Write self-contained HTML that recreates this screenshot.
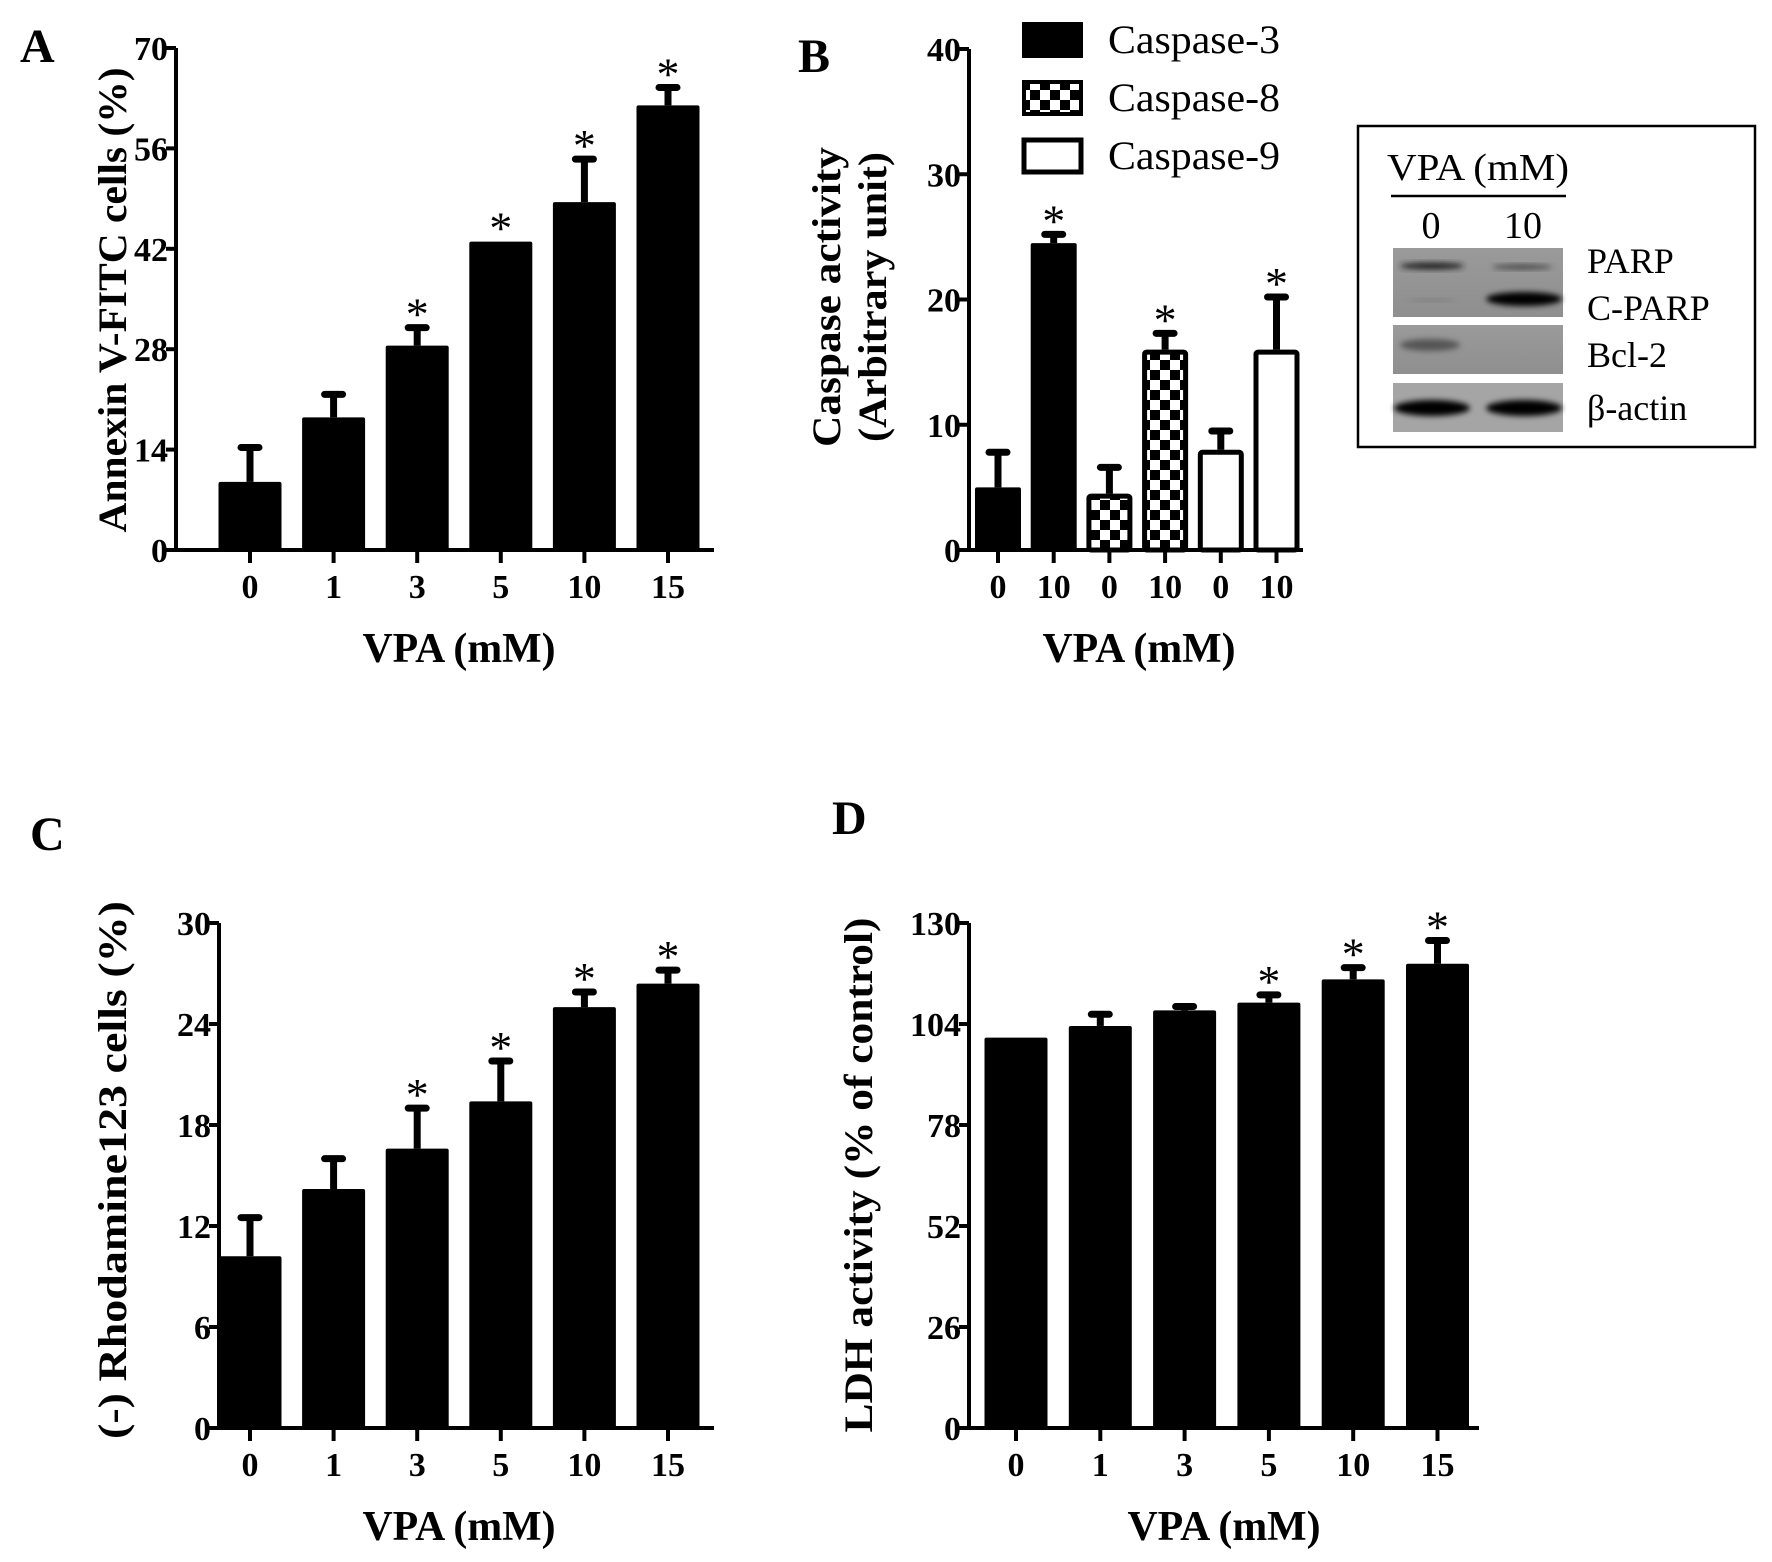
<!DOCTYPE html>
<html><head><meta charset="utf-8"><style>
html,body{margin:0;padding:0;background:#fff;}
svg{display:block;}
text{font-family:"Liberation Serif","DejaVu Serif",serif;fill:#000;}
</style></head><body>
<svg id="fig" width="1772" height="1562" viewBox="0 0 1772 1562" xmlns="http://www.w3.org/2000/svg">
<defs>
<pattern id="checker" width="20" height="20" patternUnits="userSpaceOnUse">
<rect width="20" height="20" fill="#fff"/><rect width="10" height="10" fill="#000"/><rect x="10" y="10" width="10" height="10" fill="#000"/>
</pattern>
<linearGradient id="blotbg" x1="0" y1="0" x2="0" y2="1"><stop offset="0" stop-color="#9a9a9a"/><stop offset="1" stop-color="#8f8f8f"/></linearGradient>
<filter id="blur" x="-20%" y="-50%" width="140%" height="200%"><feGaussianBlur stdDeviation="3"/></filter>
</defs>
<text x="20" y="62" font-size="48" font-weight="bold">A</text>
<text x="798" y="72" font-size="48" font-weight="bold">B</text>
<text x="30" y="850" font-size="48" font-weight="bold">C</text>
<text x="832" y="834" font-size="48" font-weight="bold">D</text>

<g>
<rect x="1358" y="126" width="397" height="321" fill="#fff" stroke="#000" stroke-width="2.5"/>
<text x="1478" y="180" font-size="38" text-anchor="middle" textLength="182" lengthAdjust="spacingAndGlyphs">VPA (mM)</text>
<line x1="1391" y1="196" x2="1566" y2="196" stroke="#000" stroke-width="2.5"/>
<text x="1431" y="238" font-size="38" text-anchor="middle">0</text>
<text x="1523" y="238" font-size="38" text-anchor="middle">10</text>
<rect x="1393" y="248" width="170" height="69" fill="url(#blotbg)"/>
<ellipse cx="1432" cy="266" rx="32" ry="3.5" fill="#222" filter="url(#blur)"/>
<ellipse cx="1522" cy="267" rx="30" ry="2.5" fill="#444" filter="url(#blur)"/>
<ellipse cx="1432" cy="300" rx="25" ry="1.5" fill="#7a7a7a" filter="url(#blur)"/>
<ellipse cx="1524" cy="299" rx="38" ry="7" fill="#000" filter="url(#blur)"/>
<rect x="1393" y="325" width="170" height="49" fill="url(#blotbg)"/>
<ellipse cx="1430" cy="345" rx="30" ry="6" fill="#555" filter="url(#blur)"/>
<rect x="1393" y="383" width="170" height="49" fill="#a5a5a5"/>
<ellipse cx="1432" cy="408" rx="38" ry="8" fill="#050505" filter="url(#blur)"/>
<ellipse cx="1524" cy="408" rx="38" ry="8" fill="#050505" filter="url(#blur)"/>
<text x="1587" y="273" font-size="36">PARP</text>
<text x="1587" y="320" font-size="36">C-PARP</text>
<text x="1587" y="367" font-size="36">Bcl-2</text>
<text x="1587" y="420" font-size="36">β-actin</text>
</g>

<g>
<rect x="1024" y="24" width="57" height="32" fill="#000" stroke="#000" stroke-width="4"/>
<text x="1108" y="53" font-size="40" textLength="172" lengthAdjust="spacingAndGlyphs">Caspase-3</text>
<rect x="1024" y="82" width="57" height="32" fill="url(#checker)" stroke="#000" stroke-width="4"/>
<text x="1108" y="111" font-size="40" textLength="172" lengthAdjust="spacingAndGlyphs">Caspase-8</text>
<rect x="1024" y="140" width="57" height="32" fill="#fff" stroke="#000" stroke-width="5"/>
<text x="1108" y="169" font-size="40" textLength="172" lengthAdjust="spacingAndGlyphs">Caspase-9</text>
</g>
<g id="charts"></g>
</svg>
<script>
// Panel A
const catsA = ["0","1","3","5","10","15"];
const valsA = [9.5, 18.5, 28.5, 43, 48.5, 62];
const errA = [14.3, 21.7, 31, 43, 54.5, 64.5];
const starA = [false,false,true,true,true,true];
const ticksA = [0,14,28,42,56,70];
// Panel B
const catsB = ["0","10","0","10","0","10"];
const valsB = [5, 24.5, 4.5, 16, 8, 16];
const errB = [7.8, 25.2, 6.6, 17.3, 9.5, 20.2];
const starB = [false,true,false,true,false,true];
const fillB = ["#000","#000","url(#checker)","url(#checker)","#fff","#fff"];
const ticksB = [0,10,20,30,40];
// Panel C
const catsC = ["0","1","3","5","10","15"];
const valsC = [10.2, 14.2, 16.6, 19.4, 25, 26.4];
const errC = [12.5, 16, 19, 21.8, 25.9, 27.2];
const starC = [false,false,true,true,true,true];
const ticksC = [0,6,12,18,24,30];
// Panel D
const catsD = ["0","1","3","5","10","15"];
const valsD = [100.5, 103.5, 107.5, 109.5, 115.5, 119.5];
const errD = [100.5, 106.5, 108.5, 111.5, 118.5, 125.5];
const starD = [false,false,false,true,true,true];
const ticksD = [0,26,52,78,104,130];

const NS="http://www.w3.org/2000/svg";
const root=document.getElementById('charts');
function mk(tag,attrs,parent){const e=document.createElementNS(NS,tag);for(const k in attrs)e.setAttribute(k,attrs[k]);(parent||root).appendChild(e);return e;}

function panel(p){
  const g=mk('g',{});
  
  
  const ymax=p.ticks[p.ticks.length-1];
  const y=v=>p.y0-(v/ymax)*(p.y0-p.yTop);
  const cx=i=>p.c0+p.step*i;
  p.vals.forEach((v,i)=>{
    const w=p.bw, c=cx(i), top=y(v), et=y(p.err[i]);
    const fill=p.fills?p.fills[i]:'#000';
    const outl=fill!=='#000';
    const sw=outl?5:0;
    if(p.err[i]>v){
      const el=mk('line',{x1:c,y1:top,x2:c,y2:et,stroke:'#000','stroke-width':7},g);
      
      
      const cap=mk('line',{x1:c-9,y1:et,x2:c+9,y2:et,stroke:'#000','stroke-width':7,'stroke-linecap':'round'},g);
      
      
    }
    const r=mk('rect',{x:c-w/2+sw/2,y:top+sw/2,width:w-sw,height:p.y0-top-sw/2,fill:fill,stroke:'#000','stroke-width':sw,rx:2},g);
    
    
    if(p.stars[i]){
      const s=mk('text',{x:c,y:Math.min(top,et)+2,'font-size':46,'text-anchor':'middle'},g);
      s.textContent='*';
      
      
    }
    mk('line',{x1:c,y1:p.y0,x2:c,y2:p.y0+13,stroke:'#000','stroke-width':4},g);
    const t=mk('text',{x:c,y:p.y0+48,'font-size':p.tfs,'font-weight':'bold','text-anchor':'middle'},g);
    t.textContent=p.cats[i];
    
    
  });
  const ya=mk('line',{x1:p.x0,y1:p.yTop,x2:p.x0,y2:p.y0+2,stroke:'#000','stroke-width':4},g);
  
  
  const xa=mk('line',{x1:p.x0-8,y1:p.y0,x2:p.x1,y2:p.y0,stroke:'#000','stroke-width':4},g);
  
  
  p.ticks.forEach(tv=>{
    const yy=y(tv);
    mk('line',{x1:p.x0-10,y1:yy,x2:p.x0,y2:yy,stroke:'#000','stroke-width':4},g);
    const t=mk('text',{x:p.x0-8,y:yy+12,'font-size':p.tfs,'font-weight':'bold','text-anchor':'end'},g);
    t.textContent=tv;
    
    
  });
  const xt=mk('text',{x:p.xtx,y:p.y0+112,'font-size':42,'font-weight':'bold','text-anchor':'middle',textLength:193,lengthAdjust:'spacingAndGlyphs'},g);
  xt.textContent='VPA (mM)';
  
  
  p.ytitle.forEach((line,k)=>{
    const tx=p.ytx+k*46;
    const yt=mk('text',{x:tx,y:p.yty,'font-size':40,'font-weight':'bold','text-anchor':'middle',textLength:p.ylen[k],lengthAdjust:'spacingAndGlyphs',transform:`rotate(-90 ${tx} ${p.yty})`},g);
    yt.textContent=line;
    
    
  });
}

panel({name:'chart-annexin',key:'a',cats:catsA,vals:valsA,err:errA,stars:starA,ticks:ticksA,
  x0:176,x1:714,y0:550,yTop:48,c0:250,step:83.6,bw:63,tfs:34,xtx:459,ytx:126,yty:300,ytitle:['Annexin V-FITC cells (%)'],ylen:[465]});
panel({name:'chart-caspase',key:'b',cats:catsB,vals:valsB,err:errB,stars:starB,ticks:ticksB,fills:fillB,
  x0:969,x1:1303,y0:550,yTop:49,c0:998,step:55.7,bw:46,tfs:34,xtx:1139,ytx:840,yty:297,ytitle:['Caspase activity','(Arbitrary unit)'],ylen:[300,290]});
panel({name:'chart-rhodamine',key:'c',cats:catsC,vals:valsC,err:errC,stars:starC,ticks:ticksC,
  x0:219,x1:714,y0:1428,yTop:923,c0:250,step:83.6,bw:63,tfs:34,xtx:459,ytx:126,yty:1170,ytitle:['(-) Rhodamine123  cells  (%)'],ylen:[538]});
panel({name:'chart-ldh',key:'d',cats:catsD,vals:valsD,err:errD,stars:starD,ticks:ticksD,
  x0:969,x1:1479,y0:1428,yTop:923,c0:1016,step:84.3,bw:63,tfs:34,xtx:1224,ytx:872,yty:1175,ytitle:['LDH activity (% of control)'],ylen:[515]});
</script>
</body></html>
